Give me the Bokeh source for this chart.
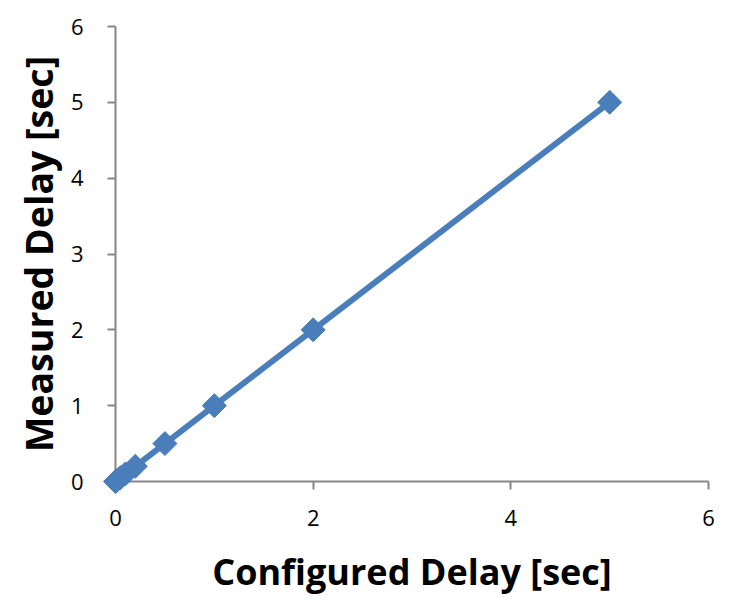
from bokeh.plotting import figure
from bokeh.models import Range1d, FixedTicker
from bokeh.embed import file_html
from bokeh.resources import INLINE

configured = [0, 0.01, 0.05, 0.1, 0.2, 0.5, 1, 2, 5]
measured = [0, 0.01, 0.05, 0.1, 0.2, 0.5, 1, 2, 5]
x_ticks = [0, 2, 4, 6]
y_ticks = [0, 1, 2, 3, 4, 5, 6]

p = figure(width=731, height=598, output_backend="svg", toolbar_location=None,
           x_range=Range1d(0, 6), y_range=Range1d(0, 6),
           min_border_left=115, min_border_right=23, min_border_top=26, min_border_bottom=115)
p.outline_line_color = None
p.grid.visible = False

color = "#4A7EBB"
p.line(configured, measured, line_color=color, line_width=6, level="overlay")
p.scatter(configured, measured, marker="square", angle=0.7853981634, size=17,
          fill_color=color, line_color=color, level="overlay")

font = "Open Sans"
for ax in (p.xaxis[0], p.yaxis[0]):
    ax.axis_line_color = "#868686"
    ax.axis_line_width = 2
    ax.major_tick_line_color = "#868686"
    ax.major_tick_line_width = 2
    ax.major_tick_out = 8
    ax.major_tick_in = 0
    ax.minor_tick_line_color = None
    ax.major_label_text_font = font
    ax.major_label_text_font_size = "22px"
    ax.major_label_text_color = "black"
    ax.axis_label_text_font = font
    ax.axis_label_text_font_style = "bold"
    ax.axis_label_text_color = "black"

p.xaxis[0].axis_label_text_font_size = "36px"
p.yaxis[0].axis_label_text_font_size = "37.5px"
p.xaxis[0].ticker = FixedTicker(ticks=x_ticks)
p.yaxis[0].ticker = FixedTicker(ticks=y_ticks)
p.xaxis[0].axis_label = "Configured Delay [sec]"
p.yaxis[0].axis_label = "Measured Delay [sec]"
p.xaxis[0].major_label_standoff = 20
p.yaxis[0].major_label_standoff = 24
p.xaxis[0].axis_label_standoff = 18
p.yaxis[0].axis_label_standoff = 4

open("out.html", "w").write(file_html(p, INLINE))
